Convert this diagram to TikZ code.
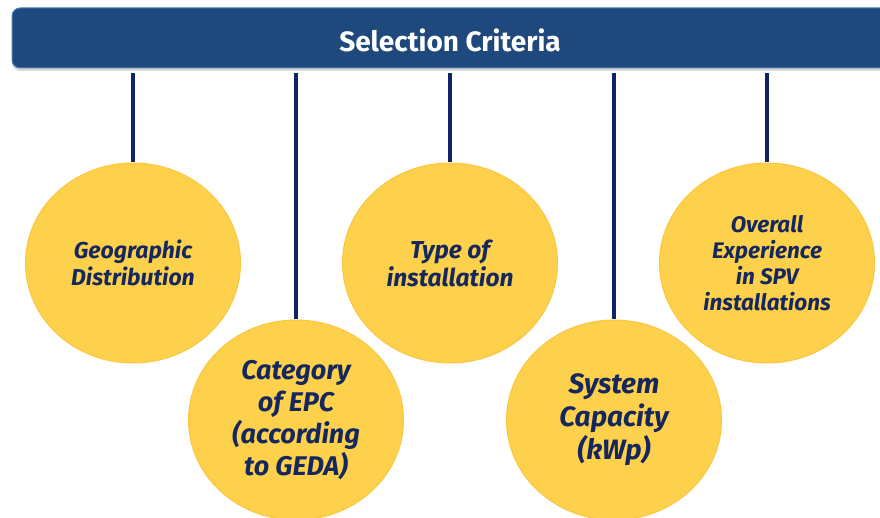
\documentclass[tikz,border=0pt]{standalone}
\usepackage{fontspec}
\setmainfont{Fira Sans}
\usetikzlibrary{shapes.geometric, shadows}
\definecolor{cnavy}{HTML}{1F497D}
\definecolor{cedge}{HTML}{4F81BD}
\definecolor{cstem}{HTML}{0E2467}
\definecolor{cyellow}{HTML}{FDD14B}
\definecolor{cink}{HTML}{16275E}
\tikzset{
  every picture/.style={font=\bfseries, line width=1pt},
  banner/.style={draw=cedge, fill=cnavy, rounded corners=8pt, text=white, minimum width=876pt, minimum height=60pt, text height=27pt, text depth=0pt, font=\bfseries\fontsize{28}{32}\selectfont, drop shadow={shadow xshift=0pt, shadow yshift=-3pt, opacity=0.3}},
  crit/.style 2 args={ellipse, draw=cyellow!85!orange, fill=cyellow, minimum width=215pt, minimum height=200pt, inner sep=0pt, align=center, text=cink, font=\bfseries\itshape\fontsize{#1}{#2}\selectfont},
  stem/.style={draw=cstem, line width=3.5pt, shorten <=5pt},
}

\begin{document}
\begin{tikzpicture}[x=1pt, y=-1pt]
  \clip (0,0) rectangle (880,518);
  \node[banner] (head) at (450,38) {Selection Criteria};
  % the five criteria, alternating high and low
  \node[crit={23}{27}] (c1) at (133,263) {Geographic\\Distribution};
  \node[crit={27}{32}] (c2) at (296,420) {Category\\of EPC\\(according\\to GEDA)};
  \node[crit={24.5}{28}] (c3) at (450,263) {Type of\\installation};
  \node[crit={28}{33}] (c4) at (614,420) {System\\Capacity\\(kWp)};
  \node[crit={22.5}{26}] (c5) at (767,263) {Overall\\Experience\\in SPV\\installations};
  \foreach \i in {1,...,5}
    \draw[stem] (head.south -| c\i) -- (c\i.north);
\end{tikzpicture}
\end{document}
